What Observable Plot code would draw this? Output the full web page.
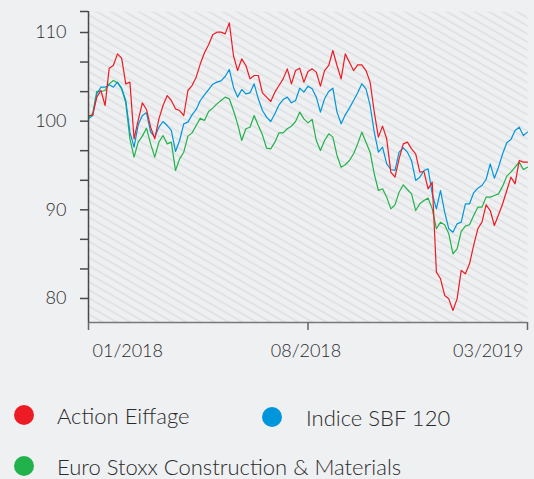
<!DOCTYPE html>
<html>
<head>
<meta charset="utf-8">
<script src="https://cdn.jsdelivr.net/npm/d3@7"></script>
<script src="https://cdn.jsdelivr.net/npm/@observablehq/plot@0.6"></script>
<style>
html, body { margin: 0; padding: 0; background: #eff0f2; }
body { position: relative; width: 534px; height: 479px; overflow: hidden; font-family: Lato, "Open Sans", sans-serif; font-weight: 300; color: #2b2b2b; }
#chart svg { display: block; }
#chart svg text { font-weight: 300; }
.dot { position: absolute; width: 20px; height: 20px; border-radius: 50%; }
.lbl { position: absolute; font-size: 22px; line-height: 22px; white-space: nowrap; color: #2b2b2b; font-weight: 300; }
</style>
</head>
<body>
<div id="chart"></div>
<div id="legend"></div>
<script>
// ---- data ----
const dates = ("2018-01-01 2018-01-05 2018-01-09 2018-01-13 2018-01-17 2018-01-21 2018-01-25 2018-01-29 " +
  "2018-02-02 2018-02-06 2018-02-10 2018-02-14 2018-02-18 2018-02-22 2018-02-26 " +
  "2018-03-02 2018-03-06 2018-03-10 2018-03-14 2018-03-18 2018-03-22 2018-03-26 2018-03-30 " +
  "2018-04-03 2018-04-07 2018-04-11 2018-04-15 2018-04-19 2018-04-23 2018-04-27 " +
  "2018-05-01 2018-05-05 2018-05-09 2018-05-13 2018-05-17 2018-05-21 2018-05-25 2018-05-29 " +
  "2018-06-02 2018-06-06 2018-06-10 2018-06-14 2018-06-18 2018-06-22 2018-06-26 2018-06-30 " +
  "2018-07-04 2018-07-08 2018-07-12 2018-07-16 2018-07-20 2018-07-24 2018-07-28 " +
  "2018-08-01 2018-08-05 2018-08-09 2018-08-13 2018-08-17 2018-08-21 2018-08-25 2018-08-29 " +
  "2018-09-02 2018-09-06 2018-09-10 2018-09-14 2018-09-18 2018-09-22 2018-09-26 2018-09-30 " +
  "2018-10-04 2018-10-08 2018-10-12 2018-10-16 2018-10-20 2018-10-24 2018-10-28 " +
  "2018-11-01 2018-11-05 2018-11-09 2018-11-13 2018-11-17 2018-11-21 2018-11-25 2018-11-29 " +
  "2018-12-03 2018-12-07 2018-12-11 2018-12-15 2018-12-19 2018-12-23 2018-12-27 2018-12-31 " +
  "2019-01-04 2019-01-08 2019-01-12 2019-01-16 2019-01-20 2019-01-24 2019-01-28 " +
  "2019-02-01 2019-02-05 2019-02-09 2019-02-13 2019-02-17 2019-02-21 2019-02-25 2019-03-01").split(" ");

const actionEiffage = [
  100.64, 100.64, 102.71, 103.46, 101.77, 105.98, 106.28, 107.59, 107.11, 104.21,
  104.40, 98.01, 100.08, 102.07, 101.32, 99.32, 98.01, 100.26, 101.77, 102.89,
  102.33, 101.39, 101.20, 100.64, 103.46, 104.02, 104.96, 106.47, 107.71, 108.61,
  109.74, 110.04, 110.04, 109.85, 111.09, 107.41, 105.71, 107.03, 106.28, 104.77,
  105.15, 105.15, 103.20, 102.71, 102.22, 103.27, 104.02, 104.77, 105.90, 104.21,
  105.71, 105.98, 104.40, 105.60, 105.90, 105.53, 103.95, 105.71, 106.28, 107.97,
  106.28, 104.77, 107.59, 106.65, 105.71, 106.35, 106.35, 105.71, 104.40, 101.02,
  98.20, 99.44, 98.01, 94.25, 93.68, 95.75, 97.44, 97.63, 96.88, 96.32,
  94.25, 94.32, 92.37, 93.12, 82.97, 82.22, 80.34, 79.96, 78.65, 79.96,
  83.16, 82.78, 83.91, 85.98, 87.86, 88.61, 90.56, 89.92, 88.23, 89.44,
  90.68, 92.18, 93.68, 92.93, 95.56, 95.38, 95.38
];

const indiceSBF120 = [
  100.26, 100.64, 103.08, 103.83, 103.83, 104.10, 103.83, 104.40, 103.72, 102.33,
  98.76, 97.07, 99.59, 100.64, 100.94, 98.76, 98.20, 99.32, 99.96, 99.51,
  98.95, 96.58, 97.82, 99.70, 99.89, 100.71, 101.32, 102.33, 102.97, 103.57,
  104.17, 104.40, 104.55, 105.04, 105.83, 103.83, 102.71, 103.57, 103.08, 103.20,
  104.21, 102.52, 101.20, 100.45, 99.96, 100.83, 101.84, 102.44, 102.71, 102.07,
  102.33, 103.72, 103.27, 103.95, 103.65, 102.71, 101.02, 102.52, 103.35, 103.72,
  101.02, 99.70, 100.71, 101.47, 102.33, 103.20, 104.21, 103.65, 101.77, 98.76,
  96.50, 97.07, 95.19, 94.55, 94.44, 96.50, 96.99, 96.50, 95.56, 93.31,
  93.68, 94.44, 94.62, 91.80, 90.11, 92.18, 89.74, 87.86, 87.48, 88.42,
  88.61, 90.68, 90.68, 91.92, 92.44, 92.74, 93.42, 95.19, 93.57, 94.81,
  96.32, 97.56, 97.93, 98.95, 99.32, 98.38, 98.76
];

const euroStoxxCM = [
  100.45, 100.83, 103.35, 103.35, 103.46, 104.21, 104.59, 104.32, 103.65, 102.07,
  98.01, 95.94, 97.63, 98.31, 99.21, 97.44, 95.94, 97.63, 98.38, 97.44,
  97.63, 94.44, 95.75, 96.50, 98.31, 98.68, 99.51, 100.34, 100.08, 101.09,
  101.47, 101.95, 102.33, 102.71, 102.52, 101.20, 99.70, 97.82, 99.14, 99.32,
  100.64, 99.51, 98.46, 96.95, 96.88, 97.63, 98.68, 98.68, 99.14, 99.44,
  99.96, 101.02, 100.26, 99.81, 100.19, 97.82, 96.69, 97.82, 98.57, 98.20,
  96.13, 94.81, 95.08, 95.56, 96.32, 97.44, 98.76, 97.63, 96.50, 94.06,
  92.18, 92.37, 91.43, 90.11, 90.56, 91.99, 92.82, 92.29, 91.80, 89.92,
  90.68, 91.05, 91.32, 90.11, 87.86, 88.61, 88.31, 87.29, 85.04, 85.60,
  87.56, 88.16, 88.31, 89.36, 90.30, 90.30, 91.43, 91.43, 91.62, 91.80,
  92.67, 93.80, 94.25, 94.81, 95.38, 94.55, 94.81
];

const seriesNames = ["Action Eiffage", "Indice SBF 120", "Euro Stoxx Construction & Materials"];
const seriesColors = ["#ed1c24", "#0096db", "#22b24c"];

const yDomain = [77.29, 112.37];
const yTickLabels = [80, 90, 100, 110];
const yMinorTicks = [83.33, 86.67, 93.33, 96.67, 103.33, 106.67];

const xDomain = ["2018-01-01", "2019-03-01"];
const xTicks = ["2018-01-01", "2018-08-01", "2019-03-01"];
const xTickLabels = ["01/2018", "08/2018", "03/2019"];

// ---- build ----
const parse = d3.utcParse("%Y-%m-%d");
const seriesValues = [actionEiffage, indiceSBF120, euroStoxxCM];
const rows = seriesValues.map((vals, s) =>
  dates.map((d, i) => ({ date: parse(d), value: vals[i], series: seriesNames[s] })));

const xTickDates = xTicks.map(parse);
const anchors = ["start", "middle", "end"];
const dxs = [4, -2, -4];

const marks = [
  Plot.frame({ fill: "url(#hatch)", stroke: "none" }),
  ...[2, 1, 0].map(s => Plot.lineY(rows[s], {
    x: "date", y: "value", stroke: seriesColors[s], strokeWidth: 1.2, strokeLinejoin: "round"
  })),
  Plot.ruleY([yDomain[0]], { stroke: "#777", strokeWidth: 1.5 }),
  Plot.axisX(xTickDates, { tickSize: 8, tickFormat: () => "", label: null, stroke: "#666", strokeWidth: 1.5 }),
  Plot.ruleX([parse(xDomain[0])], { stroke: "#4a4a4a", strokeWidth: 1.5 }),
  Plot.axisY([...yTickLabels, ...yMinorTicks, yDomain[1]], { tickSize: 8, tickFormat: () => "", label: null, stroke: "#4a4a4a", strokeWidth: 1.5 }),
  Plot.text(yTickLabels, { y: d => d, text: d => String(d), frameAnchor: "left", textAnchor: "end", dx: -22, fontSize: 18, fill: "#2b2b2b" }),
  ...xTickDates.map((d, i) => Plot.text([d], {
    x: v => v, text: () => xTickLabels[i], frameAnchor: "bottom", textAnchor: anchors[i], dx: dxs[i], dy: 34, fontSize: 18, fill: "#2b2b2b"
  }))
];

const svg = Plot.plot({
  width: 534,
  height: 370,
  marginLeft: 88,
  marginRight: 7,
  marginTop: 11,
  marginBottom: 48,
  style: { background: "transparent", fontFamily: "Lato, 'Open Sans', sans-serif", color: "#2b2b2b" },
  x: { type: "utc", domain: xDomain.map(parse), axis: null },
  y: { domain: yDomain, axis: null },
  marks
});

const defs = d3.select(svg).insert("defs", ":first-child");
const pat = defs.append("pattern")
  .attr("id", "hatch")
  .attr("patternUnits", "userSpaceOnUse")
  .attr("width", 8).attr("height", 7)
  .attr("patternTransform", "rotate(30)");
pat.append("rect").attr("width", 8).attr("height", 7).attr("fill", "#eff0f2");
pat.append("line").attr("x1", 0).attr("y1", 3.5).attr("x2", 8).attr("y2", 3.5)
  .attr("stroke", "#dddee1").attr("stroke-width", 1.5);

document.getElementById("chart").appendChild(svg);

// ---- legend ----
const legendPos = [
  { dx: 14, dy: 405, tx: 57, ty: 405 },
  { dx: 262, dy: 407, tx: 306, ty: 407 },
  { dx: 14, dy: 456, tx: 57, ty: 456 }
];
const legend = document.getElementById("legend");
seriesNames.forEach((name, i) => {
  const p = legendPos[i];
  const dot = document.createElement("div");
  dot.className = "dot";
  dot.style.left = p.dx + "px"; dot.style.top = p.dy + "px";
  dot.style.background = seriesColors[i];
  legend.appendChild(dot);
  const t = document.createElement("div");
  t.className = "lbl";
  t.style.left = p.tx + "px"; t.style.top = p.ty + "px";
  t.textContent = name;
  legend.appendChild(t);
});
</script>
</body>
</html>
